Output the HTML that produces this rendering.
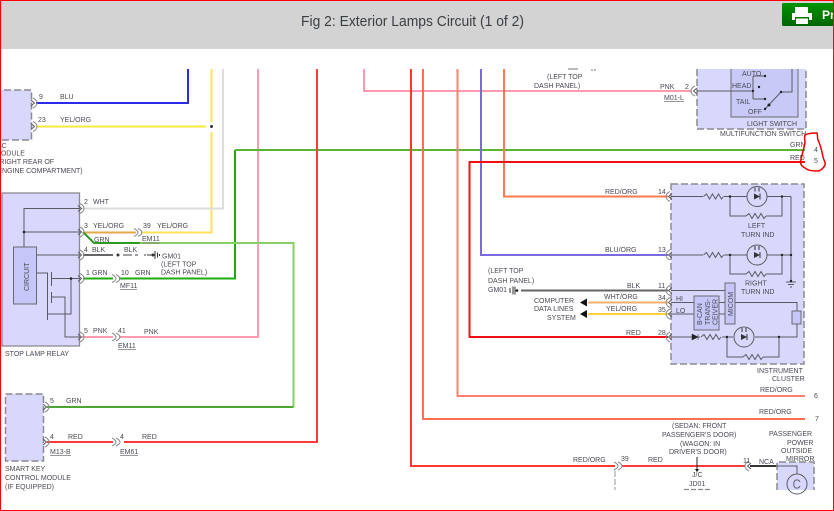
<!DOCTYPE html>
<html><head><meta charset="utf-8">
<style>
html,body{margin:0;padding:0;background:#fff;width:834px;height:511px;overflow:hidden}
svg{display:block}
text{font-family:"Liberation Sans",sans-serif;font-size:7px;fill:#4a4a55}
.w{fill:none;stroke-width:2}
.t{fill:none;stroke:#5a5a62;stroke-width:1}
.b{fill:#d8d8fc;stroke:#8a8a92;stroke-width:1.3}
.d{fill:#d8d8fc;stroke:#8a8a92;stroke-width:1.5;stroke-dasharray:7 3}
.c{fill:none;stroke:#8a8a8a;stroke-width:1}
.u{stroke:#777;stroke-width:.7}
</style></head><body>
<svg width="834" height="511" viewBox="0 0 834 511" xmlns="http://www.w3.org/2000/svg">
<defs>
<g id="pL"><path class="c" d="M-1,-5 Q3,-3 3,0 Q3,3 -1,5"/><path class="t" d="M-3,-3 L0.5,0 L-3,3"/></g>
<g id="pR"><path class="c" d="M1,-5 Q-3,-3 -3,0 Q-3,3 1,5"/><path class="t" d="M3,-3 L-0.5,0 L3,3"/></g>
<g id="cc"><path class="c" d="M-4,-4 Q0,-2 0,0 Q0,2 -4,4 M0,-4 Q4,-2 4,0 Q4,2 0,4"/></g>
<g id="res"><path class="t" d="M0,0 L3,-2.5 L6,2.5 L9,-2.5 L12,2.5 L15,-2.5 L18,2.5 L20,0"/></g>
<g id="led"><circle r="10" fill="none" stroke="#5a5a62"/><path d="M-3,-3 L3,0 L-3,3 Z" fill="#333"/><path d="M3,-3 V3" stroke="#333"/><path d="M-2,-5 V-9 M2,-5 V-9" stroke="#333"/></g>
<linearGradient id="gb" x1="0" y1="0" x2="0" y2="1"><stop offset="0" stop-color="#009400"/><stop offset="1" stop-color="#006400"/></linearGradient>
</defs>

<g style="filter:blur(.3px)">
<!-- wires -->
<g class="w">
<path stroke="#2a2ae8" d="M36,103H188V69"/>
<path stroke="#ffe93a" d="M36,126.5H206"/>
<path stroke="#ffe05a" d="M211.5,69V122M211.5,132V232.500H141"/>
<path stroke="#e6a94a" d="M83,232.500H136"/>
<path stroke="#dddddd" d="M82,208.500H223V69"/>
<path stroke="#ff9ab0" d="M82,337H113M119,337H258V69"/>
<path stroke="#ff9ab0" d="M364,69V91H692"/>
<path stroke="#22aa11" d="M83,278.500H113M119,278.500H235V150"/>
<path stroke="#5ab535" d="M235,150H805"/>
<path stroke="#2e9a20" d="M83,232L94,243H140"/>
<path stroke="#88d066" d="M140,243H293.500V407"/>
<path stroke="#4aa830" d="M293.500,407H47"/>
<path stroke="#ff3a3a" d="M317,69V442H124M47,442H113"/>
<path stroke="#ff3a2a" d="M411,69V466H615"/>
<path stroke="#ff7050" d="M423,69V419H805"/>
<path stroke="#ff8070" d="M457.500,69V396H805"/>
<path stroke="#7a6ae0" d="M481,69V255H668"/>
<path stroke="#ff7a50" d="M504,69V196.500H668"/>
<path stroke="#ee1111" d="M805,162H469.500V337H668"/>
<path stroke="#666" d="M83,255H113M521,290.500H668"/>
<path stroke="#f5b070" d="M588,302.500H668"/>
<path stroke="#ffd040" d="M588,314H668"/>
<path stroke="#ff3a3a" d="M622,466H745"/>
<path stroke="#333" d="M750,466H777"/>
</g>
<path d="M123,255H132M135,255H138M144,255H146" stroke="#666" stroke-width="1.2"/>
<circle cx="118" cy="255" r="1.500" fill="#333"/><circle cx="153" cy="255" r="1.500" fill="#333"/>
<path d="M147,255H153M155,251V259M157.500,252.500V257.500M159.500,254V256" stroke="#333" fill="none"/>
<circle cx="211.500" cy="126.500" r="1.500" fill="#333"/>

<!-- BC module -->
<rect class="d" x="-6" y="90" width="37.500" height="50"/>
<use href="#pL" x="34" y="103"/><use href="#pL" x="34" y="126.500"/>
<text x="39" y="99">9</text><text x="60" y="99">BLU</text><text x="38" y="122">23</text><text x="60" y="122">YEL/ORG</text>
<text x="-3" y="148">BC</text><text x="-5" y="155.500">MODULE</text><text x="-3" y="164">(RIGHT REAR OF</text><text x="-5" y="173">(ENGINE COMPARTMENT)</text>

<!-- stop lamp relay -->
<rect class="b" x="2" y="193" width="77.500" height="153"/>
<rect x="13.500" y="247" width="23" height="57" fill="#c6c6f8" stroke="#6a6a72"/>
<text transform="translate(29,291) rotate(-90)">CIRCUIT</text>
<path class="t" d="M24,247V208.500H80M24,232H80M36.500,255H80M36.500,273H47.500V320M51.500,272V286M51.500,292V303M52,278.500H80M52,297H65V337H80M48,314H71V278.500"/>
<circle cx="24" cy="232" r="1.300" fill="#222"/><circle cx="71" cy="278.500" r="1.300" fill="#222"/>
<use href="#pL" x="81" y="208.500"/><use href="#pL" x="81" y="232"/><use href="#pL" x="81" y="255"/><use href="#pL" x="81" y="278.500"/><use href="#pL" x="81" y="337"/>
<use href="#cc" x="138" y="232.500"/><use href="#cc" x="116" y="278.500"/><use href="#cc" x="116" y="337"/>
<text x="84" y="204">2</text><text x="93" y="204">WHT</text>
<text x="84" y="228">3</text><text x="93" y="228">YEL/ORG</text><text x="143" y="228">39</text><text x="157" y="228">YEL/ORG</text>
<text x="142" y="241">EM11</text><path class="u" d="M142,243H160"/>
<text x="94" y="242">GRN</text>
<text x="84" y="252">4</text><text x="92" y="252">BLK</text><text x="124" y="252">BLK</text>
<text x="162" y="258.500">GM01</text><text x="161" y="266.500">(LEFT TOP</text><text x="161" y="274.500">DASH PANEL)</text>
<text x="86" y="275">1</text><text x="92" y="275">GRN</text><text x="121" y="275">10</text><text x="135" y="275">GRN</text>
<text x="120" y="288">MF11</text><path class="u" d="M120,289.500H137"/>
<text x="84" y="333">5</text><text x="93" y="333">PNK</text><text x="118" y="333">41</text><text x="144" y="334">PNK</text>
<text x="118" y="348">EM11</text><path class="u" d="M118,349.500H136"/>
<text x="5" y="356">STOP LAMP RELAY</text>

<!-- smart key -->
<rect class="d" x="5.500" y="394" width="38" height="67"/>
<use href="#pL" x="46" y="407"/><use href="#pL" x="46" y="442"/>
<use href="#cc" x="116" y="442"/>
<text x="50" y="403">5</text><text x="66" y="403">GRN</text><text x="50" y="439">4</text><text x="68" y="439">RED</text>
<text x="120" y="439">4</text><text x="142" y="439">RED</text>
<text x="50" y="454">M13-B</text><path class="u" d="M50,455.500H71"/><text x="120" y="454">EM61</text><path class="u" d="M120,455.500H138"/>
<text x="5" y="471">SMART KEY</text><text x="5" y="480">CONTROL MODULE</text><text x="5" y="489">(IF EQUIPPED)</text>

<!-- multifunction switch -->
<rect class="d" x="697" y="60" width="109" height="69"/>
<rect x="731" y="60" width="67" height="57" fill="#c9c9f8" stroke="#6a6a72"/>
<rect x="690" y="40" width="130" height="29" fill="#fff"/>
<path class="t" d="M697,91H753M753,76V99M753,76H765M753,99H765M792,69V92H781L765,109"/>
<g fill="#222"><circle cx="753" cy="91" r="1.200"/><circle cx="765" cy="76" r="1.200"/><circle cx="759" cy="87" r="1.200"/><circle cx="765" cy="99" r="1.200"/><circle cx="781" cy="92" r="1.200"/><circle cx="769" cy="105" r="1.500"/><circle cx="765" cy="109" r="1.200"/></g>
<use href="#pR" x="694" y="91"/>
<text x="742" y="76">AUTO</text><text x="732" y="88">HEAD</text><text x="736" y="104">TAIL</text><text x="748" y="114">OFF</text>
<text x="747" y="126">LIGHT SWITCH</text><text x="720" y="136">MULTIFUNCTION SWITCH</text>
<text x="660" y="89">PNK</text><text x="685" y="89">2</text><text x="664" y="100">M01-L</text><path class="u" d="M664,101.500H684"/>
<text x="547" y="79">(LEFT TOP</text><text x="534" y="88">DASH PANEL)</text>
<path d="M568,69H578M592,69V71M595,69V71" stroke="#777"/>
<text x="790" y="147">GRN</text><text x="790" y="160">RED</text><text x="814" y="152">4</text><text x="814" y="163">5</text>

<!-- instrument cluster -->
<rect class="d" x="671" y="184" width="133" height="180"/>
<use href="#pR" x="669" y="196.500"/><use href="#pR" x="669" y="255"/><use href="#pR" x="669" y="290.500"/><use href="#pR" x="669" y="302.500"/><use href="#pR" x="669" y="314"/><use href="#pR" x="669" y="337"/>
<path class="t" d="M671,196.500H703M724,196.500H747M767,196.500H791M730,196.500V216H746M766,216H782V196.500"/>
<path class="t" d="M671,255H703M724,255H747M767,255H791M730,255V274H746M766,274H782V255M791,196.500V282M786,282H796M788,284.500H794M790,287H792"/>
<use href="#res" x="703.500" y="196.500"/><use href="#res" x="746" y="216"/><use href="#res" x="703.500" y="255"/><use href="#res" x="746" y="274"/>
<use href="#led" x="757" y="196.500"/><use href="#led" x="757" y="255"/>
<g fill="#222"><circle cx="730" cy="196.500" r="1.200"/><circle cx="782" cy="196.500" r="1.200"/><circle cx="730" cy="255" r="1.200"/><circle cx="782" cy="255" r="1.200"/><circle cx="791" cy="255" r="1.200"/><circle cx="791" cy="281" r="1.200"/></g>
<text x="748" y="228">LEFT</text><text x="741" y="237">TURN IND</text><text x="745" y="285.500">RIGHT</text><text x="741" y="294">TURN IND</text>
<path class="t" d="M671,290.500H725M671,302.500H694M671,314H694M719,302.500H725M719,314H725M735,302.500H797V311M797,324V337H671M727,337V357H743M763,357H779V337"/>
<rect x="694" y="296" width="25" height="34" fill="#c6c6f8" stroke="#6a6a72"/>
<rect x="725" y="283" width="10" height="41" fill="#c6c6f8" stroke="#6a6a72"/>
<rect x="792" y="311" width="9" height="13" fill="#c6c6f8" stroke="#6a6a72"/>
<text transform="translate(702,325) rotate(-90)">B-CAN</text><text transform="translate(710,325) rotate(-90)">TRANS-</text><text transform="translate(717.500,325) rotate(-90)">CEIVER</text>
<text transform="translate(733,316) rotate(-90)">MICOM</text>
<path d="M692,334 L698,337 L692,340Z M698,334V340" fill="#222" stroke="#222" stroke-width=".5"/>
<rect x="700" y="333" width="22" height="8" fill="#d8d8fc"/>
<use href="#res" x="701" y="337"/><rect x="722" y="336.500" width="5" height="1" fill="#5a5a62"/>
<rect x="733" y="330" width="22" height="14" fill="#d8d8fc"/>
<use href="#led" x="744" y="337"/>
<use href="#res" x="743" y="357"/>
<g fill="#222"><circle cx="727" cy="337" r="1.200"/><circle cx="779" cy="337" r="1.200"/></g>
<text x="676" y="301">HI</text><text x="676" y="313">LO</text>
<text x="757" y="373">INSTRUMENT</text><text x="772" y="381">CLUSTER</text>
<text x="605" y="194">RED/ORG</text><text x="658" y="194">14</text>
<text x="605" y="252">BLU/ORG</text><text x="658" y="252">13</text>
<text x="627" y="288">BLK</text><text x="658" y="288">11</text>
<text x="604" y="299">WHT/ORG</text><text x="658" y="300">34</text>
<text x="606" y="311">YEL/ORG</text><text x="658" y="312">35</text>
<text x="626" y="335">RED</text><text x="658" y="335">28</text>
<text x="488" y="273">(LEFT TOP</text><text x="488" y="283">DASH PANEL)</text><text x="488" y="292">GM01</text>
<path d="M510,288V293M513,286.500V294.500M515,286.500V294.500M515,290.500H518" stroke="#333" fill="none"/><circle cx="517" cy="290.500" r="1.300" fill="#222"/>
<text x="534" y="303">COMPUTER</text><text x="534" y="311">DATA LINES</text><text x="547" y="320">SYSTEM</text>
<path d="M580,302.500L587,298.500V306.500Z M580,314L587,310V318Z" fill="#111"/>
<text x="760" y="392">RED/ORG</text><text x="814" y="398">6</text>
<text x="759" y="414">RED/ORG</text><text x="815" y="421">7</text>

<!-- bottom right -->
<use href="#cc" x="618" y="466"/>
<use href="#pR" x="748" y="466"/>
<path d="M615,471V490" stroke="#999" stroke-dasharray="6 2"/>
<text x="573" y="462">RED/ORG</text><text x="621" y="461">39</text><text x="648" y="462">RED</text><text x="743" y="463">11</text><text x="759" y="464">NCA</text>
<text x="672" y="428">(SEDAN: FRONT</text><text x="662" y="437">PASSENGER'S DOOR)</text><text x="680" y="446">(WAGON: IN</text><text x="669" y="454">DRIVER'S DOOR)</text>
<path d="M697,457V469" stroke="#222"/><path d="M695,469H699L697,472Z" fill="#111"/>
<text x="692" y="477">J/C</text><text x="689" y="486">JD01</text>
<path d="M684,489.500H711" stroke="#888" stroke-dasharray="5 2" stroke-width="1.300"/>
<text x="769" y="436">PASSENGER</text><text x="787" y="445">POWER</text><text x="781" y="453">OUTSIDE</text><text x="786" y="461">MIRROR</text>
<path d="M777,462H814V490H777Z" fill="#d8d8fc" stroke="none"/>
<path d="M777,490V462H814V490" fill="none" stroke="#8a8a92" stroke-width="1.500" stroke-dasharray="7 3"/>
<path class="t" d="M777,466H797V474"/>
<circle cx="797" cy="484" r="10" fill="none" stroke="#5a5a62"/>
<path class="t" d="M794,484A3,3 0 0 1 800,482M794,484A3,3 0 0 0 800,486"/>
</g>

<!-- hand-drawn circle -->
<path d="M805,135C808,133 813,133 817,133C818,136 817,138 818,140C821,146 822,152 823,157C824,161 826,163 825,165C823,169 820,171 817,171C812,171 807,170 805,168C801,166 800,163 801,160C802,154 804,148 805,143C805,140 804,137 805,135Z" fill="none" stroke="#ee0000" stroke-width="1.500"/>

<!-- header -->
<rect x="0" y="0" width="834" height="49" fill="#d3d3d3"/>
<text x="301" y="26" style="font-size:15px;fill:#3a3f44" textLength="223" lengthAdjust="spacingAndGlyphs">Fig 2: Exterior Lamps Circuit (1 of 2)</text>
<rect x="782" y="3" width="52" height="23" rx="1.500" fill="url(#gb)"/>
<path d="M795,7H808V13H795Z M792,13H812V20H809V17H795V20H792Z M796,18.500H808V24H796Z" fill="#fff"/>
<text x="822" y="19" style="font-size:12px;fill:#fff;font-weight:bold">Pri</text>

<!-- red frame -->
<rect x="0" y="0" width="834" height="1" fill="#f00"/>
<rect x="0" y="0" width="1" height="511" fill="#f00"/>
<rect x="0" y="510" width="834" height="1" fill="#f00"/>
<rect x="833" y="0" width="1" height="511" fill="#f00"/>
</svg>
</body></html>
